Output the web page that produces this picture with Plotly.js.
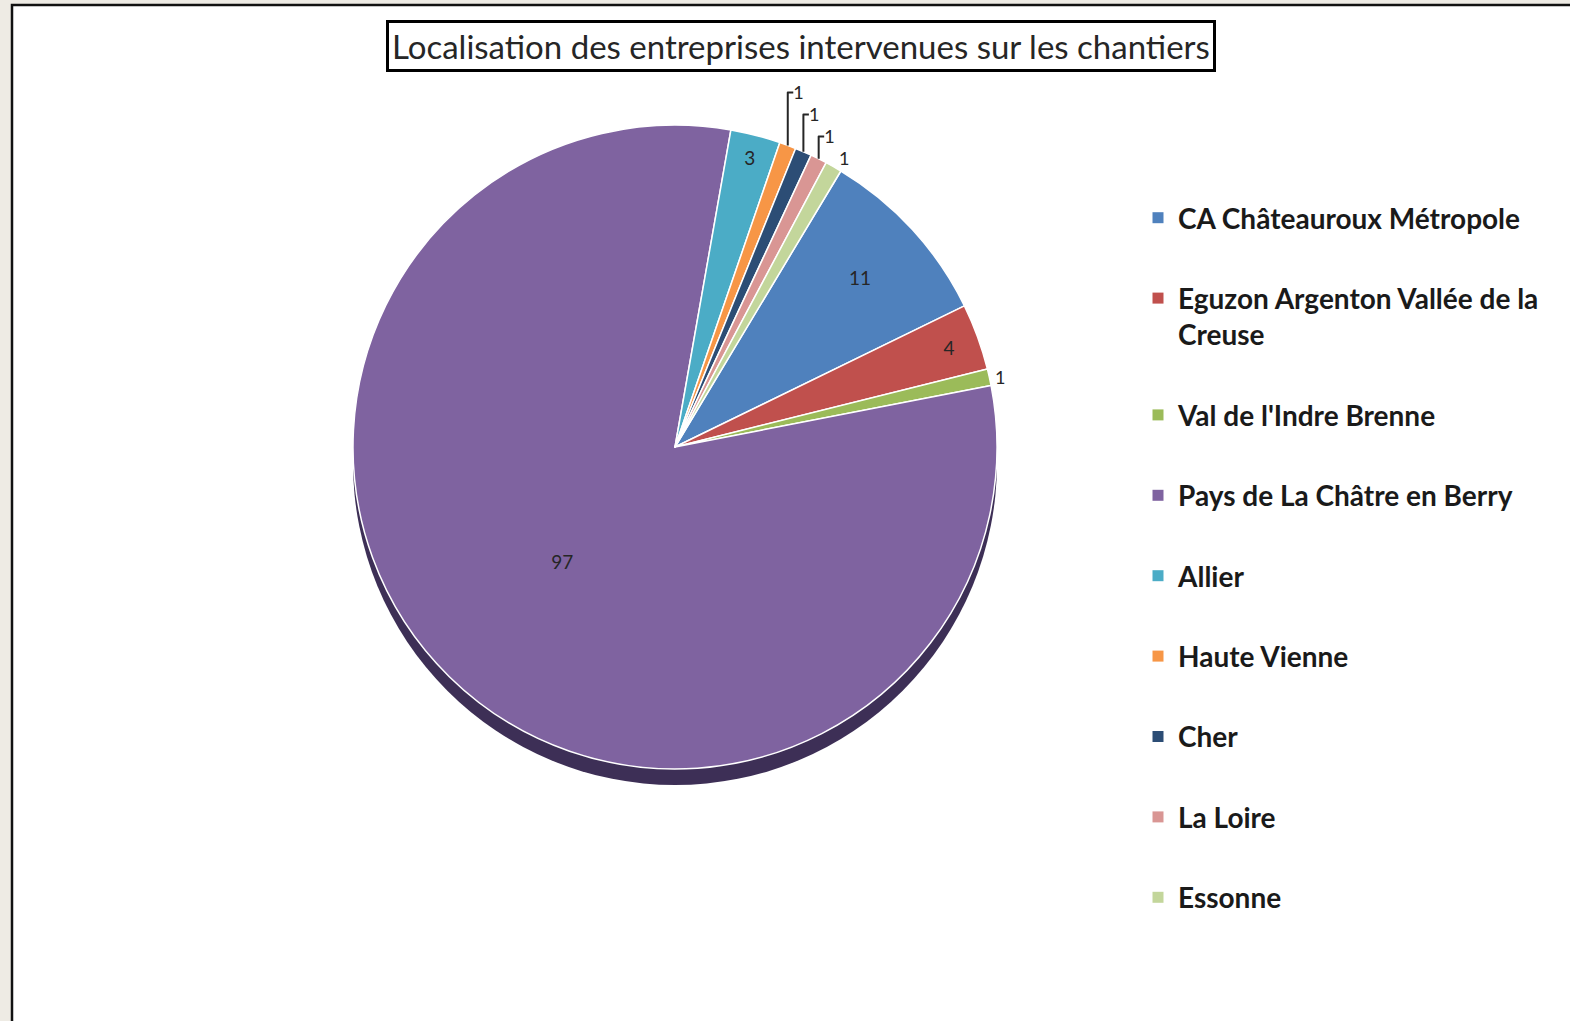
<!DOCTYPE html>
<html>
<head>
<meta charset="utf-8">
<script src="https://cdn.plot.ly/plotly-3.0.1.min.js"></script>
<style>html,body{margin:0;padding:0;background:#EEEBE4;}#chart{width:1570px;height:1021px;}</style>
</head>
<body>
<div id="chart"></div>
<script>
const titleText = "Localisation des entreprises intervenues sur les chantiers";
const labels = ["CA Châteauroux Métropole", "Eguzon Argenton Vallée de la<br>Creuse", "Val de l'Indre Brenne", "Pays de La Châtre en Berry", "Allier", "Haute Vienne", "Cher", "La Loire", "Essonne"];
const values = [11, 4, 1, 97, 3, 1, 1, 1, 1];
const colors = ["#4F81BD", "#C0504D", "#9BBB59", "#7F63A0", "#4BACC6", "#F79646", "#2C4D75", "#D99694", "#C3D69B"];
const labelPositions = ["inside", "inside", "outside", "inside", "inside", "outside", "outside", "outside", "outside"];

const W = 1570, H = 1021;
const cx = 675, cy = 447, R = 322, shadowDrop = 16;
function dom(cxp, cyp, r) {
  return { x: [(cxp - r) / W, (cxp + r) / W], y: [1 - (cyp + r) / H, 1 - (cyp - r) / H] };
}
const total = values.reduce((a, b) => a + b, 0);

const traces = [];
// 3D rim (shadow disc)
traces.push({
  type: "pie", values: [total], labels: ["rim"], sort: false,
  marker: { colors: ["#3D2F56"], line: { width: 0 } },
  textinfo: "none", hoverinfo: "skip", showlegend: false,
  domain: dom(cx, cy + shadowDrop, R)
});
traces.push({
  type: "pie", values: values, labels: labels, sort: false,
  direction: "clockwise", rotation: 31,
  marker: { colors: colors, line: { color: "#FFFFFF", width: 1.5 } },
  textinfo: "value", textposition: labelPositions,
  insidetextorientation: "horizontal",
  insidetextfont: { family: "Lato, 'Open Sans', sans-serif", size: 19, color: "#262626" },
  outsidetextfont: { family: "Lato, 'Open Sans', sans-serif", size: 18, color: "#262626" },
  showlegend: false,
  domain: dom(cx, cy, R)
});
// Legend entries
labels.forEach((lab, i) => {
  traces.push({
    type: "scatter", mode: "markers", x: [null], y: [null],
    name: lab, legendgroup: "g" + i,
    marker: { symbol: "square", size: 11, color: colors[i] },
    hoverinfo: "skip"
  });
});

const layout = {
  width: W, height: H,
  margin: { l: 0, r: 0, t: 0, b: 0, pad: 0 },
  paper_bgcolor: "#EEEBE4",
  plot_bgcolor: "rgba(0,0,0,0)",
  xaxis: { visible: false, domain: [0.9, 1] },
  yaxis: { visible: false, domain: [0, 0.05] },
  showlegend: true,
  legend: {
    x: 1138 / W, y: 1 - 193 / H, xanchor: "left", yanchor: "top",
    traceorder: "grouped", tracegroupgap: 41, valign: "top",
    bgcolor: "rgba(0,0,0,0)",
    font: { family: "Lato, 'Open Sans', sans-serif", size: 28, weight: "bold", color: "#1A1A1A" }
  },
  shapes: [{
    type: "rect", xref: "paper", yref: "paper", layer: "below",
    x0: 12 / W, x1: 1.02, y0: -0.02, y1: 1 - 5 / H,
    fillcolor: "#FFFFFF", line: { color: "#111111", width: 2.5 }
  }],
  annotations: [{
    xref: "paper", yref: "paper", x: 801 / W, y: 1 - 46 / H,
    xanchor: "center", yanchor: "middle", showarrow: false,
    text: titleText,
    font: { family: "Lato, 'Open Sans', sans-serif", size: 33, color: "#262626" },
    bordercolor: "#000000", borderwidth: 3, borderpad: 3, bgcolor: "#FFFFFF"
  }]
};

Plotly.newPlot("chart", traces, layout, { displayModeBar: false, staticPlot: true });
</script>
</body>
</html>
